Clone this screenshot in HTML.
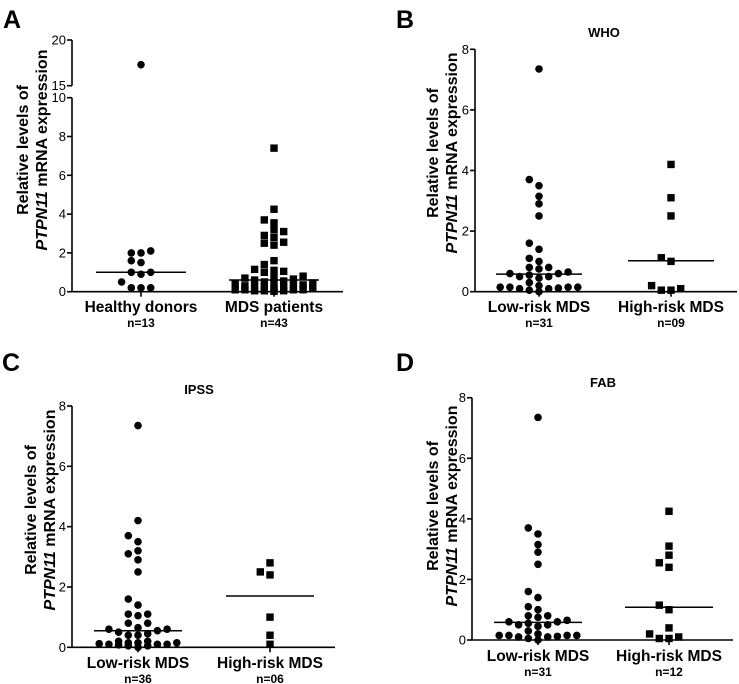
<!DOCTYPE html>
<html><head><meta charset="utf-8"><style>
body{margin:0;background:#fff}
svg{display:block;font-family:"Liberation Sans",Arial,sans-serif}
</style></head><body>
<svg id="fig" width="739" height="684" viewBox="0 0 739 684" xmlns="http://www.w3.org/2000/svg"></svg>
<script>
// ---- data ----
const aCategories = ["Healthy donors", "MDS patients"];
const aCounts = ["n=13", "n=43"];
const aHealthy = [17.3, 2.0, 2.0, 2.1, 1.5, 1.6, 1.0, 0.9, 1.0, 0.5, 0.2, 0.2, 0.2];
const aMDS = [7.4, 4.25, 3.7, 3.55, 3.2, 3.1, 2.9, 2.8, 2.55, 2.5, 2.4, 1.6, 1.4, 1.15, 1.1, 1.05, 1.0, 0.8, 0.75, 0.7, 0.65, 0.6, 0.55, 0.5, 0.45, 0.4, 0.35, 0.3, 0.25, 0.2, 0.2, 0.15, 0.15, 0.1, 0.1, 0.1, 0.1, 0.05, 0.05, 0.05, 0.02, 0.3, 0.4];
const aMeans = [1.0, 0.6];
const aTicksLow = [0, 2, 4, 6, 8, 10];
const aTicksHigh = [15, 20];

const lowRiskCategories = ["Low-risk MDS", "High-risk MDS"];
const bCounts = ["n=31", "n=09"];
const bLow = [7.35, 3.7, 3.5, 3.15, 2.9, 2.5, 1.6, 1.4, 1.1, 1.0, 0.8, 0.8, 0.75, 0.65, 0.6, 0.6, 0.55, 0.5, 0.5, 0.45, 0.3, 0.2, 0.15, 0.15, 0.15, 0.15, 0.12, 0.1, 0.1, 0.05, 0.0];
const bHigh = [4.2, 3.1, 2.5, 1.12, 1.0, 0.2, 0.1, 0.05, 0.05];
const bMeans = [0.58, 1.02];

const cCounts = ["n=36", "n=06"];
const cLow = [7.35, 4.2, 3.7, 3.5, 3.2, 3.1, 2.9, 2.5, 1.6, 1.4, 1.1, 1.05, 1.1, 0.8, 0.8, 0.65, 0.6, 0.6, 0.55, 0.5, 0.45, 0.4, 0.4, 0.2, 0.2, 0.15, 0.15, 0.15, 0.12, 0.1, 0.1, 0.1, 0.08, 0.05, 0.05, 0.0];
const cHigh = [2.8, 2.5, 2.4, 1.0, 0.4, 0.1];
const cMeans = [0.55, 1.7];

const dCounts = ["n=31", "n=12"];
const dLow = [7.35, 3.7, 3.5, 3.15, 2.9, 2.5, 1.6, 1.4, 1.1, 1.0, 0.8, 0.8, 0.75, 0.65, 0.6, 0.6, 0.55, 0.5, 0.5, 0.45, 0.3, 0.2, 0.15, 0.15, 0.15, 0.15, 0.12, 0.1, 0.1, 0.05, 0.0];
const dHigh = [4.25, 3.1, 2.8, 2.55, 2.4, 1.15, 1.0, 0.4, 0.2, 0.1, 0.05, 0.05];
const dMeans = [0.58, 1.08];

const ticks8 = [0, 2, 4, 6, 8];

const NS = "http://www.w3.org/2000/svg";
const svg = document.getElementById("fig");
function mk(tag, attrs, parent, text) {
  const e = document.createElementNS(NS, tag);
  for (const k in attrs) e.setAttribute(k, attrs[k]);
  if (text !== undefined) e.textContent = text;
  (parent || svg).appendChild(e);
  return e;
}

function swarm(vals, yFn) {
  const step = 9.7, maxK = 9; // offsets up to +/-4.5 steps
  const placed = [];
  const order = vals.map((v, i) => i).sort((a, b) => vals[a] - vals[b]);
  const out = new Array(vals.length);
  order.forEach(i => {
    const y = yFn(vals[i]);
    let best = null, bestCost = Infinity;
    for (let k = 0; k < maxK; k++) {
      const off = (k % 2 === 0 ? 1 : -1) * Math.ceil(k / 2) * step;
      let cost = 0;
      placed.forEach(p => {
        if (Math.abs(p.x - off) < 8 && Math.abs(p.y - y) < 6.5) cost += 6.5 - Math.abs(p.y - y) + 1;
      });
      if (cost === 0) { best = off; bestCost = 0; break; }
      if (cost < bestCost) { bestCost = cost; best = off; }
    }
    placed.push({x: best, y}); out[i] = {x: best, y};
  });
  return out;
}

function panel(cfg) {
  const g = mk("g", {});
  
  
  const yFn = cfg.yFn;
  const letter = mk("text", {x: cfg.letterX, y: cfg.letterY, "font-size": 25, "font-weight": "bold"}, g, cfg.letter);
  
  
  if (cfg.title) {
    const t = mk("text", {x: cfg.titleX, y: cfg.titleY, "font-size": 13, "font-weight": "bold", "text-anchor": "middle"}, g, cfg.title);
    
    
  }
  const ax = mk("g", {stroke: "#000", "stroke-width": 1.6}, g);
  
  
  cfg.segments.forEach(s => mk("line", {x1: cfg.x0, x2: cfg.x0, y1: yFn(s[0]), y2: yFn(s[1])}, ax));
  mk("line", {x1: cfg.x0, x2: cfg.xEnd, y1: yFn(0), y2: yFn(0)}, ax);
  cfg.ticks.forEach(v => {
    const y = yFn(v);
    mk("line", {x1: cfg.x0 - 5, x2: cfg.x0, y1: y, y2: y}, ax);
    const tl = mk("text", {x: cfg.x0 - 6, y: y + 4.5, "font-size": 13, "text-anchor": "end", stroke: "none", fill: "#000"}, g, String(v));
    
    
  });
  const yt = mk("text", {transform: `translate(${cfg.ytX},${cfg.ytY}) rotate(-90)`, "font-size": 16, "font-weight": "bold", "text-anchor": "middle"}, g);
  
  
  mk("tspan", {x: 0, y: 0}, yt, "Relative levels of");
  const l2 = mk("tspan", {x: 0, y: 19}, yt);
  mk("tspan", {"font-style": "italic"}, l2, "PTPN11");
  mk("tspan", {}, l2, " mRNA expression");
  cfg.groups.forEach((vals, gi) => {
    const cx = cfg.centers[gi];
    mk("line", {x1: cx, x2: cx, y1: yFn(0), y2: yFn(0) + 5, stroke: "#000", "stroke-width": 1.6}, g);
    const cl = mk("text", {x: cx, y: cfg.catY, "font-size": 15.5, "font-weight": "bold", "text-anchor": "middle"}, g, cfg.categories[gi]);
    
    
    const nl = mk("text", {x: cx, y: cfg.catY + 15, "font-size": 12, "font-weight": "bold", "text-anchor": "middle"}, g, cfg.counts[gi]);
    
    
    const pos = swarm(vals, yFn);
    pos.forEach(p => {
      let m;
      if (gi === 0) {
        m = mk("circle", {cx: cx + p.x, cy: p.y, r: 3.8, fill: "#000"}, g);
      } else {
        m = mk("rect", {x: cx + p.x - 3.7, y: p.y - 3.7, width: 7.4, height: 7.4, fill: "#000"}, g);
      }
      
      
    });
    const my = yFn(cfg.means[gi]);
    const ml = mk("line", {x1: cx - cfg.meanHalf, x2: cx + cfg.meanHalf, y1: my, y2: my, stroke: "#000", "stroke-width": 1.5}, g);
    
    
  });
}

function linY(y0, y8, max) { return v => y0 - (y0 - y8) * v / max; }

const aY = v => v <= 10 ? 291.7 - v * 19.4 : 85.7 - (v - 15) * 9.14;
panel({name: "panel-a", letter: "A", letterX: 3, letterY: 28, yFn: aY, x0: 72, xEnd: 343,
  segments: [[0, 10], [15, 20]], ticks: aTicksLow.concat(aTicksHigh), ytX: 28, ytY: 150,
  groups: [aHealthy, aMDS], centers: [141, 274], categories: aCategories, counts: aCounts,
  means: aMeans, meanHalf: 45, catY: 312});
panel({name: "panel-b", letter: "B", letterX: 396, letterY: 28, title: "WHO", titleX: 604, titleY: 37,
  yFn: linY(291.7, 49.3, 8), x0: 475, xEnd: 737, segments: [[0, 8]], ticks: ticks8, ytX: 438, ytY: 153,
  groups: [bLow, bHigh], centers: [539, 671], categories: lowRiskCategories, counts: bCounts,
  means: bMeans, meanHalf: 43, catY: 312});
panel({name: "panel-c", letter: "C", letterX: 2, letterY: 371, title: "IPSS", titleX: 199, titleY: 394,
  yFn: linY(647.3, 406, 8), x0: 72, xEnd: 335, segments: [[0, 8]], ticks: ticks8, ytX: 36, ytY: 510,
  groups: [cLow, cHigh], centers: [138, 270], categories: lowRiskCategories, counts: cCounts,
  means: cMeans, meanHalf: 44, catY: 668});
panel({name: "panel-d", letter: "D", letterX: 396, letterY: 371, title: "FAB", titleX: 603, titleY: 387,
  yFn: linY(640, 397.7, 8), x0: 472, xEnd: 733, segments: [[0, 8]], ticks: ticks8, ytX: 438, ytY: 506,
  groups: [dLow, dHigh], centers: [538, 669], categories: lowRiskCategories, counts: dCounts,
  means: dMeans, meanHalf: 44, catY: 661});
</script>
</body></html>
